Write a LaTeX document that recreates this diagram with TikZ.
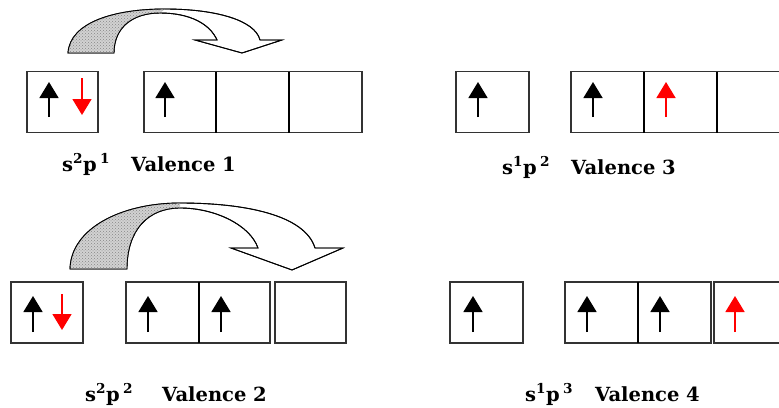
\documentclass[tikz,border=0pt]{standalone}
\usepackage{fontspec}
\setmainfont{DejaVu Serif}
\usetikzlibrary{arrows.meta, patterns}

\tikzset{
  orbital/.style={draw=black!80, line width=1.4pt},
  divider/.style={line width=2.6pt},
  spin/.style={line width=1.6pt, -{Triangle[width=19pt,length=16pt]}},
  hop/.style={draw=black, line width=0.9pt, fill=white},
  hoptail/.style={pattern=crosshatch dots, pattern color=gray!95},
  lbl/.style={font=\fontsize{19.5}{22}\selectfont\bfseries, anchor=base west, inner sep=0pt},
}

\begin{document}
\begin{tikzpicture}[x=1pt, y=-1pt]
  \useasboundingbox (0,0) rectangle (779,407);
  \clip (0,0) rectangle (779,407);

  % ---------- s2p1, valence 1 ----------
  \draw[orbital] (27,71.5) rectangle (98,132.5);
  \draw[orbital] (144,71.5) rectangle (362,132.5);
  \foreach \x in {216,289}
    \draw[divider] (\x,71.5) -- (\x,132.5);
  \draw[spin] (49,117) -- (49,82);
  \draw[spin, red] (82,78) -- (82,115);
  \draw[spin] (165,117) -- (165,82);

  % electron jump s -> p
  \path[hop] (68,53) .. controls (70,22) and (115,9) .. (165,9)
    .. controls (215,9) and (255,20) .. (260,40) -- (282,40) -- (242,53)
    -- (195,40) -- (217,40) .. controls (210,24) and (190,13) .. (160,13)
    .. controls (132,13) and (114,28) .. (114,53) -- cycle;
  \begin{scope}
    \clip (0,0) -- (172,0) -- (155,60) -- (0,60) -- cycle;
    \fill[gray!35] (68,53) .. controls (70,22) and (115,9) .. (165,9)
      -- (160,13) .. controls (132,13) and (114,28) .. (114,53) -- cycle;
    \fill[hoptail] (68,53) .. controls (70,22) and (115,9) .. (165,9)
      -- (160,13) .. controls (132,13) and (114,28) .. (114,53) -- cycle;
  \end{scope}
  \draw[line width=0.9pt] (68,53) .. controls (70,22) and (115,9) .. (165,9)
    .. controls (215,9) and (255,20) .. (260,40) -- (282,40) -- (242,53)
    -- (195,40) -- (217,40) .. controls (210,24) and (190,13) .. (160,13)
    .. controls (132,13) and (114,28) .. (114,53) -- cycle;

  \node[lbl] (cfgA) at (62,171) {s\textsuperscript{2}p\,\textsuperscript{1}};
  \node[lbl] (valA) at (131,171) {Valence 1};

  % ---------- s1p2, valence 3 ----------
  \draw[orbital] (456,71.5) rectangle (529,132.5);
  \draw[orbital] (571,71.5) rectangle (790,132.5);
  \foreach \x in {644,717}
    \draw[divider] (\x,71.5) -- (\x,132.5);
  \draw[spin] (478,117) -- (478,82);
  \draw[spin] (593,117) -- (593,82);
  \draw[spin, red] (666,117) -- (666,82);

  \node[lbl] (cfgC) at (502,174) {s\textsuperscript{1}p\,\textsuperscript{2}};
  \node[lbl] (valC) at (571,174) {Valence 3};

  % ---------- s2p2, valence 2 ----------
  \draw[orbital] (11,282) rectangle (83,343);
  \draw[orbital] (126,282) rectangle (270,343);
  \draw[divider] (199,282) -- (199,343);
  \draw[orbital] (275,282) rectangle (346,343);
  \draw[spin] (33,332) -- (33,296);
  \draw[spin, red] (62,294) -- (62,330);
  \draw[spin] (148,332) -- (148,296);
  \draw[spin] (221,332) -- (221,296);

  % electron jump s -> p
  \path[hop] (70,269) .. controls (71,228) and (122,203) .. (180,203)
    .. controls (245,203) and (305,215) .. (315,248) -- (343,248) -- (292,270)
    -- (231,248) -- (258,248) .. controls (250,225) and (215,208) .. (180,208)
    .. controls (148,208) and (127,230) .. (127,269) -- cycle;
  \begin{scope}
    \clip (0,195) -- (186,195) -- (165,275) -- (0,275) -- cycle;
    \fill[gray!35] (70,269) .. controls (71,228) and (122,203) .. (180,203)
      -- (180,208) .. controls (148,208) and (127,230) .. (127,269) -- cycle;
    \fill[hoptail] (70,269) .. controls (71,228) and (122,203) .. (180,203)
      -- (180,208) .. controls (148,208) and (127,230) .. (127,269) -- cycle;
  \end{scope}
  \draw[line width=0.9pt] (70,269) .. controls (71,228) and (122,203) .. (180,203)
    .. controls (245,203) and (305,215) .. (315,248) -- (343,248) -- (292,270)
    -- (231,248) -- (258,248) .. controls (250,225) and (215,208) .. (180,208)
    .. controls (148,208) and (127,230) .. (127,269) -- cycle;

  \node[lbl] (cfgB) at (85,401) {s\textsuperscript{2}p\,\textsuperscript{2}};
  \node[lbl] (valB) at (162,401) {Valence 2};

  % ---------- s1p3, valence 4 ----------
  \draw[orbital] (450,282) rectangle (523,343);
  \draw[orbital] (565,282) rectangle (711,343);
  \draw[divider] (638,282) -- (638,343);
  \draw[orbital] (714,282) rectangle (787,343);
  \draw[spin] (473,332) -- (473,296);
  \draw[spin] (587,332) -- (587,296);
  \draw[spin] (660,332) -- (660,296);
  \draw[spin, red] (735,332) -- (735,296);

  \node[lbl] (cfgD) at (525,401) {s\textsuperscript{1}p\,\textsuperscript{3}};
  \node[lbl] (valD) at (595,401) {Valence 4};
\end{tikzpicture}
\end{document}
